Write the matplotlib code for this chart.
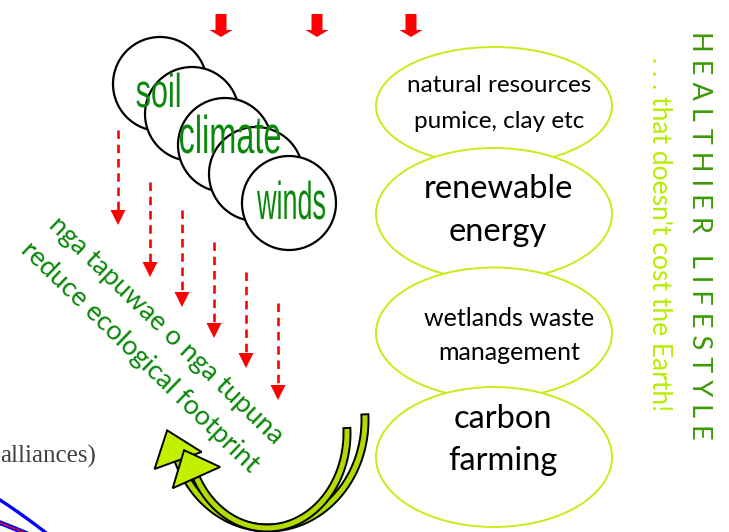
import numpy as np
import matplotlib
matplotlib.use("Agg")
import matplotlib.pyplot as plt
from matplotlib.font_manager import FontProperties
from matplotlib.patches import Circle, Ellipse, FancyArrow, Polygon, PathPatch
from matplotlib.textpath import TextPath
from matplotlib.transforms import Affine2D

# diagram content
circle_centres = [(160, 84), (192, 114), (225, 145), (256, 174), (289, 203)]
circle_words = ["soil", "climate", "winds"]
word_x = [158, 230, 291]
word_baseline = [107, 153, 219]
word_height = [34, 38, 38]
word_width = [43, 100, 68]

oval_centres_y = [106, 214, 333, 457]
oval_heights = [118, 132, 131, 140]
oval_lines = [
    ("natural resources", "pumice, clay etc"),
    ("renewable", "energy"),
    ("wetlands waste", "management"),
    ("carbon", "farming"),
]
oval_text_x = [499, 498, 509, 503]
oval_text_y = [(86, 122), (189, 232), (318, 353), (419, 461)]
oval_font = [17.5, 23.5, 18, 23.5]

top_arrow_x = [221, 317, 411]

dash_x = [118, 150, 182, 214, 246, 278]
dash_start = [130, 182, 210, 242, 272, 303]
dash_tip = [225, 277, 307, 338, 368, 400]

diag_lines = ["nga tapuwae o nga tupuna", "reduce ecological footprint"]
diag_centres = [(166, 330), (140, 357)]

GREEN = "#0a880a"
LIME = "#c4ee1a"
SANS = ["Lato", "DejaVu Sans"]

fig = plt.figure(figsize=(7.29, 5.32), dpi=100)
ax = fig.add_axes([0, 0, 1, 1])
ax.set_xlim(0, 729)
ax.set_ylim(532, 0)
ax.axis("off")

# red block arrows at the top
for x in top_arrow_x:
    ax.add_patch(FancyArrow(x, 14, 0, 23, width=11, head_width=23,
                            head_length=7, length_includes_head=True,
                            color="red", lw=0))

# overlapping circles
for (cx, cy) in circle_centres:
    ax.add_patch(Circle((cx, cy), 47, facecolor="white", edgecolor="black", lw=1.6))

# condensed green words (text squeezed horizontally)
fp = FontProperties(family="Liberation Sans")
for word, x, yb, h, w in zip(circle_words, word_x, word_baseline, word_height, word_width):
    path = TextPath((0, 0), word, size=h / 0.716, prop=fp)
    ext = path.get_extents()
    sx = w / ext.width
    tr = Affine2D().scale(sx, -1).translate(x - sx * (ext.x0 + ext.width / 2), yb)
    ax.add_patch(PathPatch(path, transform=tr + ax.transData,
                           facecolor=GREEN, edgecolor="none"))

# red dashed arrows
for x, y0, y1 in zip(dash_x, dash_start, dash_tip):
    ax.plot([x, x], [y0, y1 - 13], color="red", lw=1.9, ls=(0, (3.2, 2.2)))
    ax.add_patch(Polygon([(x - 7.5, y1 - 15), (x + 7.5, y1 - 15), (x, y1)],
                         closed=True, color="red", lw=0))

# diagonal green text
for txt, (x, y) in zip(diag_lines, diag_centres):
    ax.text(x, y, txt, color=GREEN, fontsize=19.5, family=SANS, rotation=-44,
            rotation_mode="anchor", ha="center", va="center")

# stacked ovals on the right
for cy, h in zip(oval_centres_y, oval_heights):
    ax.add_patch(Ellipse((494, cy), 236, h, facecolor="white", edgecolor=LIME, lw=1.4))
for lines, x, ys, fs in zip(oval_lines, oval_text_x, oval_text_y, oval_font):
    for line, y in zip(lines, ys):
        ax.text(x, y, line, color="black", fontsize=fs, family=SANS,
                ha="center", va="center")

# vertical titles
ax.text(700, 235, " ".join("HEALTHIER") + "   " + " ".join("LIFESTYLE"),
        color="#3c9a06", fontsize=19.5, family=SANS, rotation=-90,
        ha="center", va="center")
ax.text(660, 234, ". . . that doesn't cost the Earth!", color="#b6ee00",
        fontsize=19, family=SANS, rotation=-90, ha="center", va="center")


# curved lime arrows at the bottom
def curved_arrow(cx, cy, rx, ry, t0, t1, width, head_w, head_len):
    t = np.radians(np.linspace(t0, t1, 80))
    outer = np.c_[cx + (rx + width / 2) * np.cos(t), cy + (ry + width / 2) * np.sin(t)]
    inner = np.c_[cx + (rx - width / 2) * np.cos(t), cy + (ry - width / 2) * np.sin(t)]
    ax.add_patch(Polygon(np.vstack([outer, inner[::-1]]), closed=True,
                         facecolor="#b2dc00", edgecolor="black", lw=1.4))
    te = t[-1]
    base = np.array([cx + rx * np.cos(te), cy + ry * np.sin(te)])
    d = np.array([-rx * np.sin(te), ry * np.cos(te)])
    d /= np.hypot(*d)
    n = np.array([-d[1], d[0]])
    head = [base + n * head_w / 2, base + d * head_len, base - n * head_w / 2]
    ax.add_patch(Polygon(head, closed=True, facecolor="#c4f000",
                         edgecolor="black", lw=1.4))


curved_arrow(268, 420, 97, 108, -3, 158, 7, 50, 32)
curved_arrow(267, 433, 80, 95, -3, 152, 7, 52, 30)

# remnants at the bottom left
ax.text(0, 463, "alliances)", color="#404040", fontsize=18,
        family=["Liberation Serif", "DejaVu Serif"], ha="left", va="baseline")
t = np.linspace(0, 1, 30)
ax.plot(-60 + 105 * t, 470 + 62 * t ** 1.3, color="blue", lw=2.4)
ax.plot(-40 + 70 * t, 510 + 25 * t ** 1.2, color="blue", lw=3.5)
ax.plot(-40 + 70 * t, 510 + 25 * t ** 1.2, color="red", lw=1)

fig.savefig("out.png", dpi=100)
